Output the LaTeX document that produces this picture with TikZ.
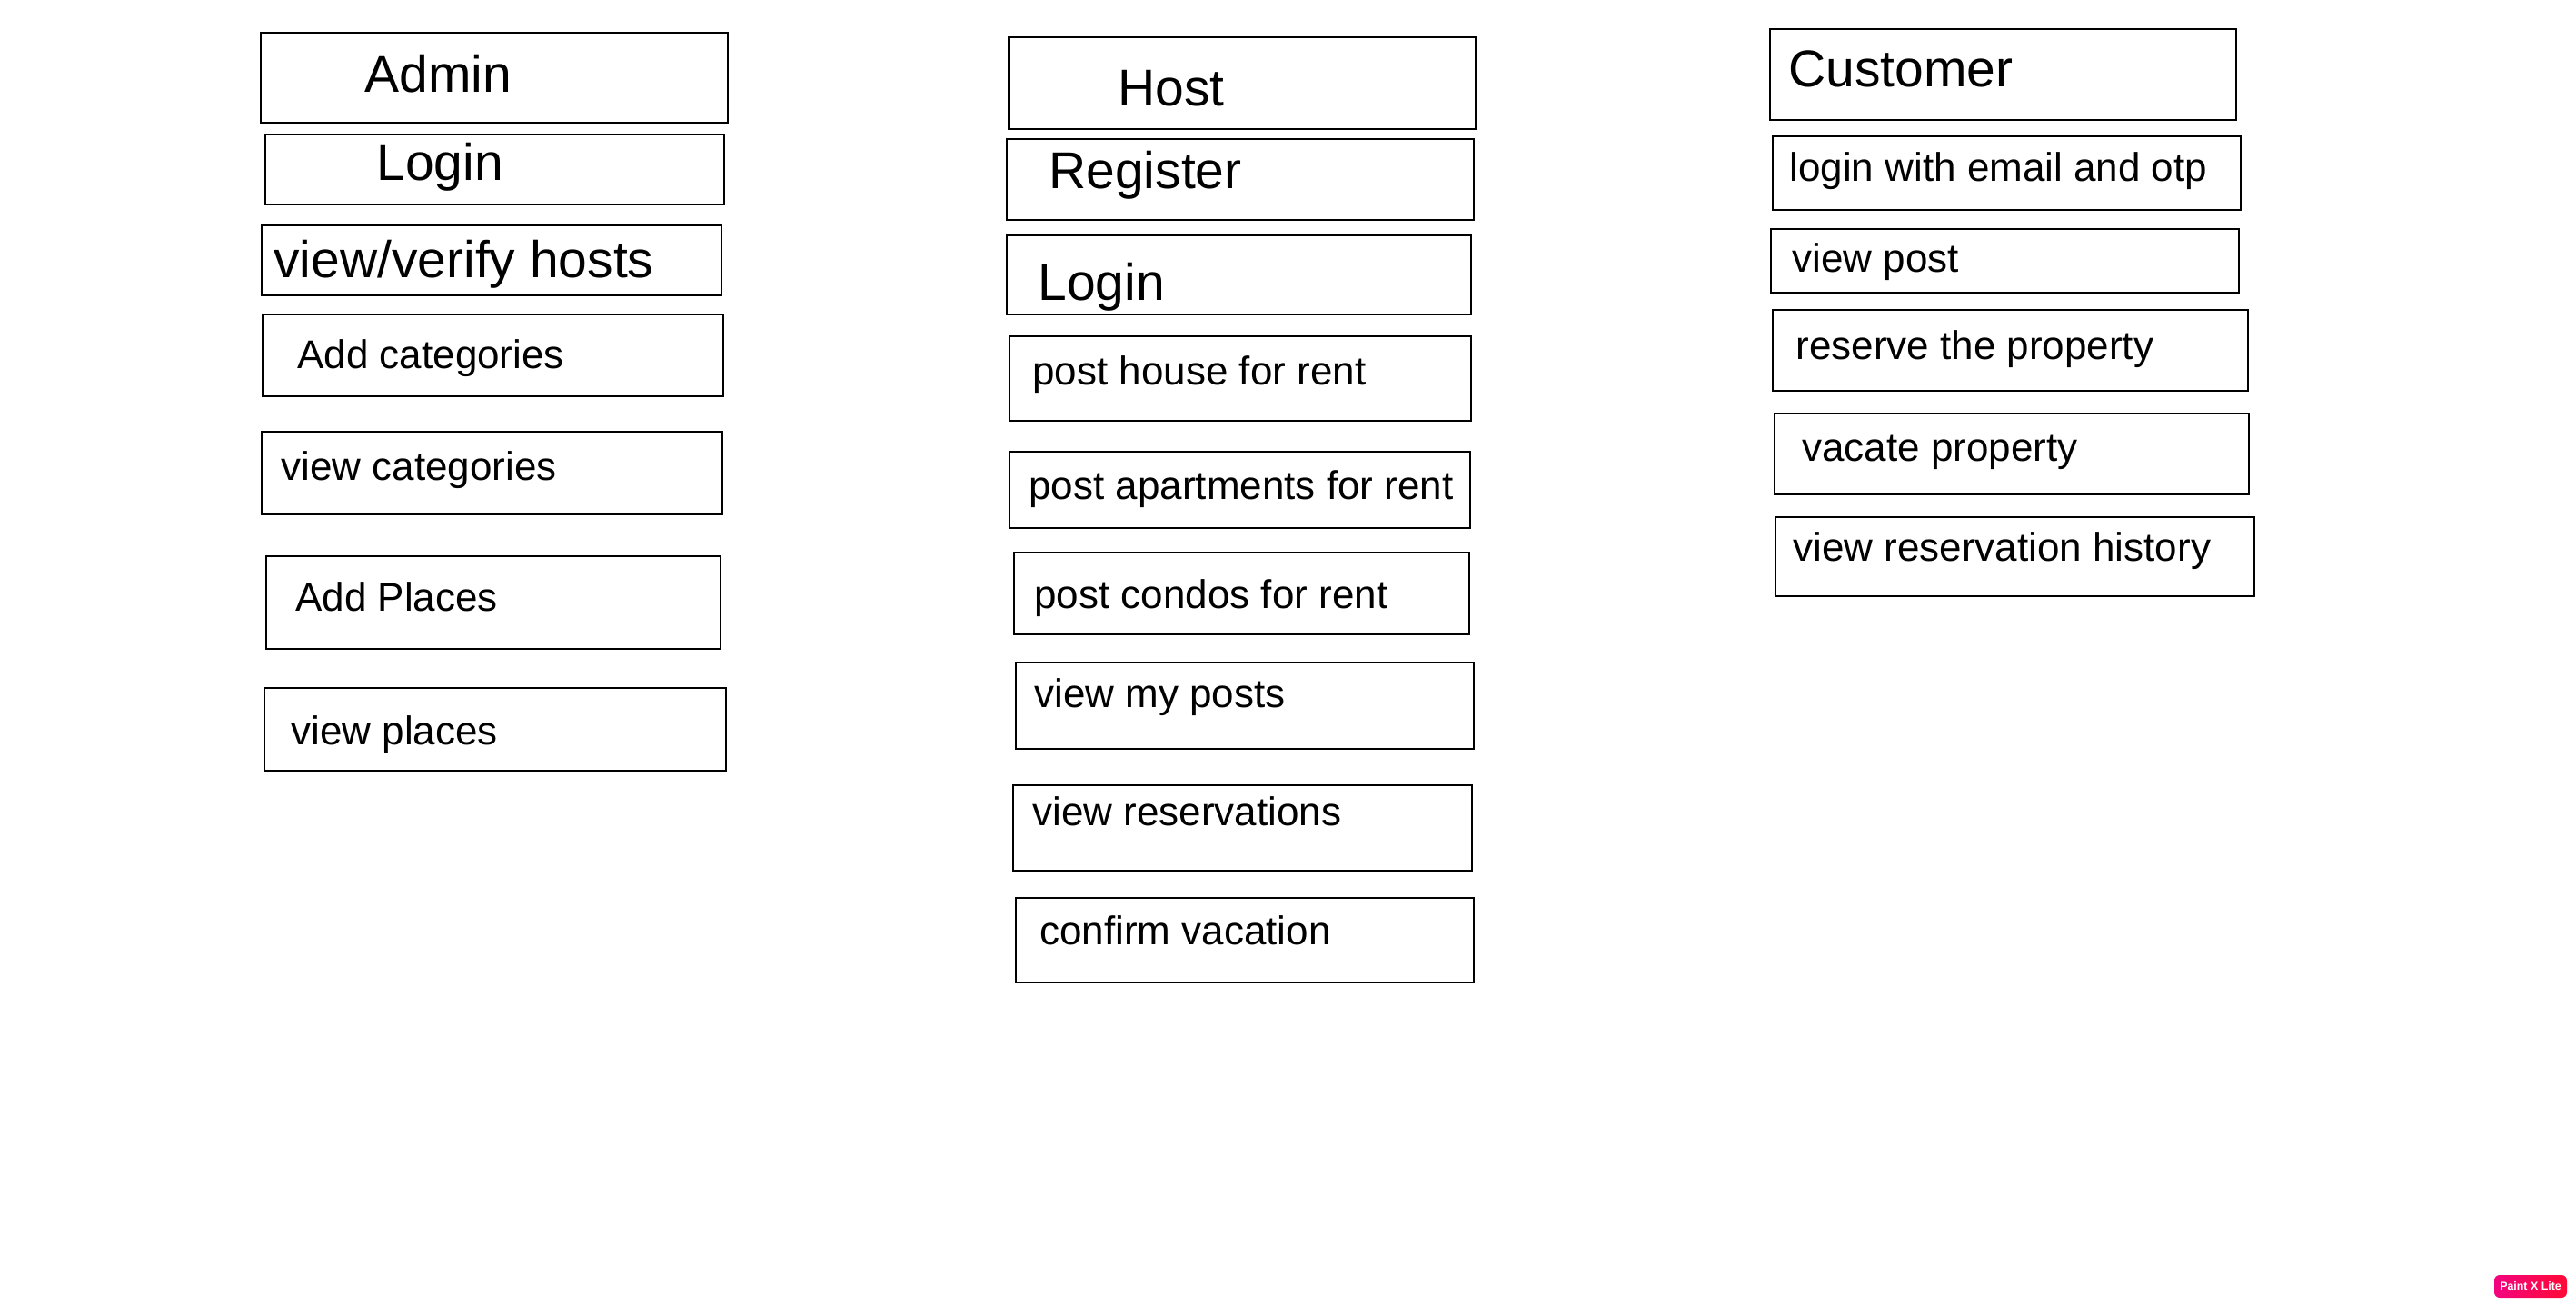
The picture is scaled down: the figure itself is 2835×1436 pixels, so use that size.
\documentclass[tikz,border=0pt]{standalone}
\usepackage{fontspec}
\setmainfont{Liberation Sans}
\usetikzlibrary{fit}
\definecolor{badgeL}{HTML}{F2047F}
\definecolor{badgeR}{HTML}{FF0A36}
\tikzset{
  boxs/.style={draw=black, line width=1pt, inner sep=0pt, fill=none},
  txtbig/.style={inner sep=0pt, anchor=base west, font=\fontsize{28.5}{34}\selectfont},
  txtsml/.style={inner sep=0pt, anchor=base west, font=\fontsize{22}{26}\selectfont},
  badge/.style={rounded corners=3pt, left color=badgeL, right color=badgeR, draw=none, inner sep=0pt},
}
\newcommand{\ubox}[9]{%
  \node[boxs, fit={(#2,#3) (#4,#5)}] (#1) {};
  \node[#9] (#1t) at (#6,#7) {#8};
}
\begin{document}
\begin{tikzpicture}[x=0.5pt, y=-0.5pt]
\useasboundingbox[fill=white] (0,0) rectangle (2835,1436);
% Admin column
\ubox{a1}{287}{36}{801}{135}{401}{101}{Admin}{txtbig}
\ubox{a2}{292}{148}{797}{225}{414}{198}{Login}{txtbig}
\ubox{a3}{288}{248}{794}{325}{301}{305.5}{view/verify hosts}{txtbig}
\ubox{a4}{289}{346}{796}{436}{327}{405}{Add categories}{txtsml}
\ubox{a5}{288}{475}{795}{566}{309}{528}{view categories}{txtsml}
\ubox{a6}{293}{612}{793}{714}{325}{672}{Add Places}{txtsml}
\ubox{a7}{291}{757}{799}{848}{320}{819.5}{view places}{txtsml}
% Host column
\ubox{h1}{1110}{41}{1624}{142}{1230}{116}{Host}{txtbig}
\ubox{h2}{1108}{153}{1622}{242}{1154}{207}{Register}{txtbig}
\ubox{h3}{1108}{259}{1619}{346}{1142}{330}{Login}{txtbig}
\ubox{h4}{1111}{370}{1619}{463}{1136}{423}{post house for rent}{txtsml}
\ubox{h5}{1111}{497}{1618}{581}{1132}{549}{post apartments for rent}{txtsml}
\ubox{h6}{1116}{608}{1617}{698}{1138}{669}{post condos for rent}{txtsml}
\ubox{h7}{1118}{729}{1622}{824}{1138}{778}{view my posts}{txtsml}
\ubox{h8}{1115}{864}{1620}{958}{1136}{908}{view reservations}{txtsml}
\ubox{h9}{1118}{988}{1622}{1081}{1144}{1039}{confirm vacation}{txtsml}
% Customer column
\ubox{c1}{1948}{32}{2461}{132}{1968}{95}{Customer}{txtbig}
\ubox{c2}{1951}{150}{2466}{231}{1969}{199}{login with email and otp}{txtsml}
\ubox{c3}{1949}{252}{2464}{322}{1972}{299}{view post}{txtsml}
\ubox{c4}{1951}{341}{2474}{430}{1976}{395}{reserve the property}{txtsml}
\ubox{c5}{1953}{455}{2475}{544}{1983}{507}{vacate property}{txtsml}
\ubox{c6}{1954}{569}{2481}{656}{1973}{617}{view reservation history}{txtsml}
% badge
\node[badge, fit={(2745,1403) (2825,1428)}] (bdg) {};
\node[text=white, inner sep=0pt, font=\fontsize{6.2}{7}\selectfont\bfseries] (bdgt) at (bdg.center) {Paint X Lite};
\end{tikzpicture}
\end{document}
